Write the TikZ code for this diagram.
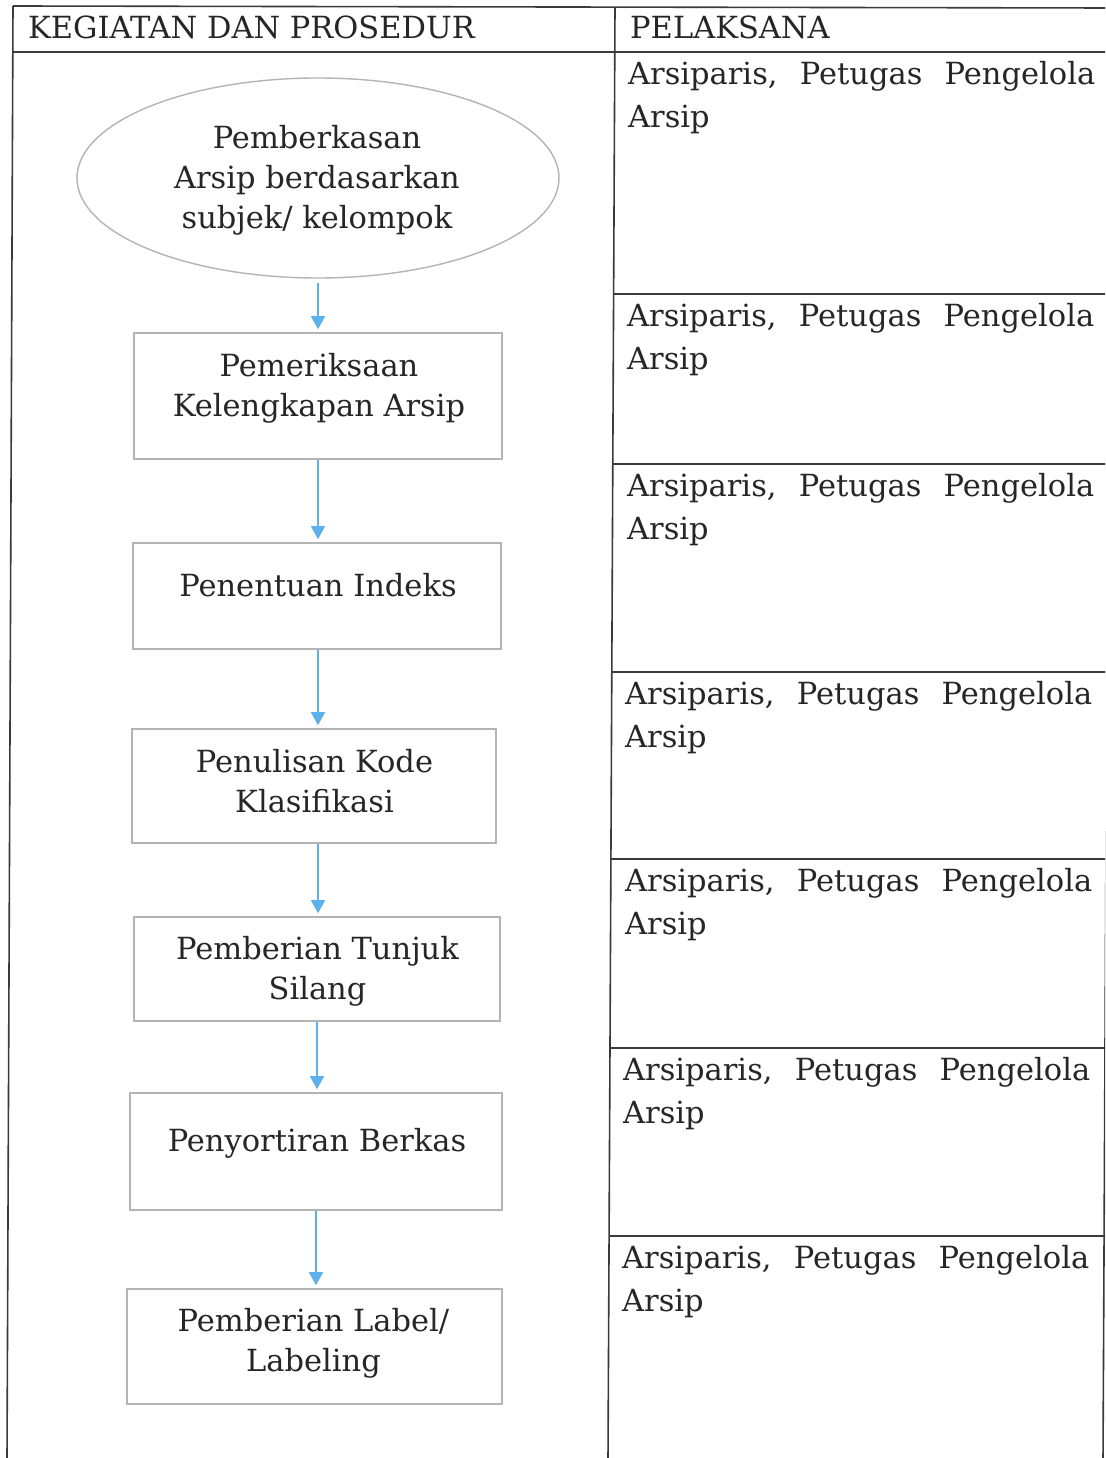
\documentclass[tikz,border=0pt]{standalone}
\usepackage{fontspec}
\setmainfont{DejaVu Serif}
\usetikzlibrary{shapes.geometric,arrows.meta}
\definecolor{tline}{HTML}{3A3A3A}
\definecolor{bline}{HTML}{B4B4B4}
\definecolor{aline}{HTML}{5DB0EA}
\definecolor{txt}{HTML}{262626}
\newcommand{\pelaksana}{\hbox to 467pt{Arsiparis,\hfill Petugas\hfill Pengelola}\\Arsip}
\begin{document}
\begin{tikzpicture}[x=1pt,y=-1pt,
 tbl/.style={draw=tline,line width=1.6pt},
 stepbox/.style={draw=bline,line width=1.6pt,rectangle,inner sep=0pt},
 startell/.style={draw=bline,line width=1.4pt,ellipse,inner sep=0pt},
 boxtext/.style={font=\fontsize{30.5}{40}\selectfont,text=txt,align=center,anchor=north,inner sep=0pt},
 rowtext/.style={font=\fontsize{30.5}{43}\selectfont,text=txt,align=left,anchor=north west,inner sep=0pt,text width=467pt},
 hdr/.style={font=\fontsize{30.5}{36}\selectfont,text=txt,anchor=base west,inner sep=0pt},
 flow/.style={draw=aline,line width=1.4pt,-{Triangle[length=13pt,width=14pt]},shorten >=3pt}
]
\useasboundingbox (0,0) rectangle (1105,1458);
\fill[white] (0,0) rectangle (1105,1458);
\begin{scope}
\clip (0,0) rectangle (1105,1458);
% table
\draw[tbl] (13,6) -- (1110,8);
\draw[tbl] (13,52) -- (1110,52);
\draw[tbl] (13,6) -- (7,1460);
\draw[tbl] (615,7) -- (608,1460);
\draw[tbl] (1110,8) -- (1103,1460);
\draw[tbl] (613.6,294) -- (1110,294);
\draw[tbl] (612.8,464) -- (1110,464);
\draw[tbl] (611.8,672) -- (1110,672);
\draw[tbl] (610.9,859) -- (1110,859);
\draw[tbl] (610,1048) -- (1110,1048);
\draw[tbl] (609.2,1236) -- (1110,1236);
\end{scope}
% headers
\node[hdr] (h1) at (28,39) {KEGIATAN DAN PROSEDUR};
\node[hdr] (h2) at (630,39) {PELAKSANA};
% row texts
\node[rowtext] (r1) at (628,61) {\pelaksana};
\node[rowtext] (r2) at (627,303) {\pelaksana};
\node[rowtext] (r3) at (627,473) {\pelaksana};
\node[rowtext] (r4) at (625,681) {\pelaksana};
\node[rowtext] (r5) at (625,868) {\pelaksana};
\node[rowtext] (r6) at (623,1057) {\pelaksana};
\node[rowtext] (r7) at (622,1245) {\pelaksana};
% flow shapes
\node[startell,minimum width=482pt,minimum height=200pt] (e0) at (318,178) {};
\node[stepbox,minimum width=368pt,minimum height=126pt] (b1) at (318,396) {};
\node[stepbox,minimum width=368pt,minimum height=106pt] (b2) at (317,596) {};
\node[stepbox,minimum width=364pt,minimum height=114pt] (b3) at (314,786) {};
\node[stepbox,minimum width=366pt,minimum height=104pt] (b4) at (317,969) {};
\node[stepbox,minimum width=372pt,minimum height=117pt] (b5) at (316,1151.5) {};
\node[stepbox,minimum width=375pt,minimum height=115pt] (b6) at (314.5,1346.5) {};
% flow texts
\node[boxtext] (t0) at (317,125) {Pemberkasan\\Arsip berdasarkan\\subjek/ kelompok};
\node[boxtext] (t1) at (319,353) {Pemeriksaan\\Kelengkapan Arsip};
\node[boxtext] (t2) at (318,573) {Penentuan Indeks};
\node[boxtext] (t3) at (314.5,749) {Penulisan Kode\\Klasifikasi};
\node[boxtext] (t4) at (317.5,936) {Pemberian Tunjuk\\Silang};
\node[boxtext] (t5) at (317,1128) {Penyortiran Berkas};
\node[boxtext] (t6) at (313.5,1308) {Pemberian Label/\\Labeling};
% arrows
\draw[flow] ([yshift=-4pt]e0.south) -- (e0.south |- b1.north);
\draw[flow] (b1.south) -- (b1.south |- b2.north);
\draw[flow] ([xshift=1pt]b2.south) -- ([xshift=1pt]b2.south |- b3.north);
\draw[flow] ([xshift=4pt]b3.south) -- ([xshift=4pt]b3.south |- b4.north);
\draw[flow] (b4.south) -- (b4.south |- b5.north);
\draw[flow] (b5.south) -- (b5.south |- b6.north);
\end{tikzpicture}
\end{document}
